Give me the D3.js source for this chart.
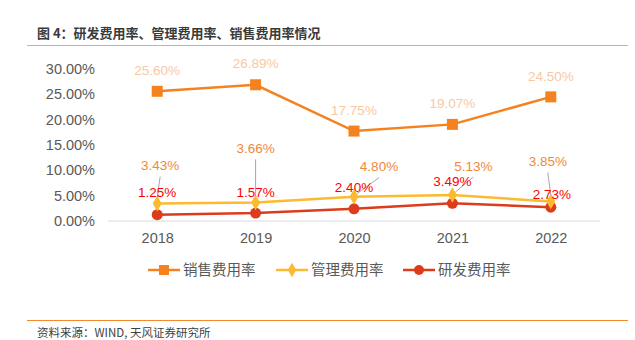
<!DOCTYPE html>
<html>
<head>
<meta charset="utf-8">
<script src="https://cdn.jsdelivr.net/npm/d3@7"></script>
<style>
  body { margin: 0; background: #fff; }
  text { font-family: "Liberation Sans", Arial, sans-serif; }
  .cjk { font-family: "Noto Sans CJK SC", sans-serif; }
</style>
</head>
<body>
<svg id="chart" width="635" height="340"></svg>
<script>
var years = ["2018", "2019", "2020", "2021", "2022"];
var sales = [25.60, 26.89, 17.75, 19.07, 24.50];
var admin = [3.43, 3.66, 4.80, 5.13, 3.85];
var rnd = [1.25, 1.57, 2.40, 3.49, 2.73];
var yTicks = [0, 5, 10, 15, 20, 25, 30];
var seriesNames = ["销售费用率", "管理费用率", "研发费用率"];

// label offsets (dx, dy) relative to each point
var salesOff = [[0,-21],[0,-21],[0,-21],[0,-21],[0,-21]];
var adminOff = [[3,-38],[0,-54],[25,-30],[21,-29],[-3,-40]];
var rndOff = [[0,-22],[0,-21],[0,-22],[0,-22],[1,-13]];

var svg = d3.select("#chart");

svg.append("text").attr("class", "cjk")
   .attr("x", 37).attr("y", 38)
   .attr("font-size", "13px").attr("font-weight", "bold").attr("fill", "#3a3a3a")
   .text("图 4：研发费用率、管理费用率、销售费用率情况");
svg.append("line").attr("x1", 27).attr("x2", 628).attr("y1", 45.5).attr("y2", 45.5)
   .attr("stroke", "#F4A46A").attr("stroke-width", 1);
svg.append("line").attr("x1", 27).attr("x2", 628).attr("y1", 320.5).attr("y2", 320.5)
   .attr("stroke", "#F58A2A").attr("stroke-width", 1.2);
svg.append("text").attr("class", "cjk")
   .attr("x", 37).attr("y", 337)
   .attr("font-size", "11.5px").attr("fill", "#404040")
   .text("资料来源：WIND, 天风证券研究所");

var x = d3.scalePoint().domain(years).range([108, 600]).padding(0.5);
var y = d3.scaleLinear().domain([0, 30]).range([221, 69]);

// y axis labels
svg.append("g").selectAll("text").data(yTicks).enter().append("text")
   .attr("x", 95).attr("y", function(d) { return y(d); }).attr("dy", "0.35em")
   .attr("text-anchor", "end").attr("font-size", "14.5px").attr("fill", "#595959")
   .text(function(d) { return d3.format(".2f")(d) + "%"; });

// x axis
var xAxis = svg.append("g").attr("transform", "translate(0," + y(0) + ")")
   .call(d3.axisBottom(x).tickSize(0).tickPadding(12));
xAxis.select(".domain").attr("stroke", "#d9d9d9").attr("d", "M108,0H600");
xAxis.selectAll("text").attr("font-size", "14.5px").attr("fill", "#595959")
   .attr("font-family", "Liberation Sans, Arial, sans-serif");

var line = d3.line().x(function(d, i) { return x(years[i]); }).y(function(d) { return y(d); });

var cSales = "#F5821F", cAdmin = "#FBBA2F", cRnd = "#DC3B1C";

svg.append("path").datum(rnd).attr("fill", "none").attr("stroke", cRnd).attr("stroke-width", 2.5).attr("d", line);
svg.append("path").datum(admin).attr("fill", "none").attr("stroke", cAdmin).attr("stroke-width", 2.5).attr("d", line);
svg.append("path").datum(sales).attr("fill", "none").attr("stroke", cSales).attr("stroke-width", 2.5).attr("d", line);

svg.append("g").selectAll("circle").data(rnd).enter().append("circle")
   .attr("cx", function(d, i) { return x(years[i]); }).attr("cy", function(d) { return y(d); })
   .attr("r", 5.5).attr("fill", cRnd);
svg.append("g").selectAll("path").data(admin).enter().append("path")
   .attr("transform", function(d, i) { return "translate(" + x(years[i]) + "," + y(d) + ")"; })
   .attr("d", d3.symbol(d3.symbolDiamond, 70)).attr("fill", cAdmin);
svg.append("g").selectAll("rect").data(sales).enter().append("rect")
   .attr("x", function(d, i) { return x(years[i]) - 5.5; }).attr("y", function(d) { return y(d) - 5.5; })
   .attr("width", 11).attr("height", 11).attr("fill", cSales);

// leader lines for admin labels
svg.append("g").selectAll("line").data(admin).enter().append("line")
   .attr("x1", function(d, i) { return x(years[i]) + adminOff[i][0]; })
   .attr("y1", function(d, i) { return y(d) + adminOff[i][1] + 11; })
   .attr("x2", function(d, i) { return x(years[i]) + (adminOff[i][0] > 10 ? 3 : 0); })
   .attr("y2", function(d, i) { return y(d) - (adminOff[i][0] > 10 ? 3 : 6); })
   .attr("stroke", "#a6a6a6").attr("stroke-width", 1);

function labels(data, off, color) {
  svg.append("g").selectAll("text").data(data).enter().append("text")
     .attr("x", function(d, i) { return x(years[i]) + off[i][0]; })
     .attr("y", function(d, i) { return y(d) + off[i][1]; })
     .attr("dy", "0.35em").attr("text-anchor", "middle")
     .attr("font-size", "13.5px").attr("fill", color)
     .text(function(d) { return d.toFixed(2) + "%"; });
}
labels(sales, salesOff, "#F8C8A4");
labels(admin, adminOff, "#F0883A");
labels(rnd, rndOff, "#FF0000");

// legend
var legendX = [148, 276, 403];
var legendColors = [cSales, cAdmin, cRnd];
var lg = svg.append("g").selectAll("g").data(seriesNames).enter().append("g")
   .attr("transform", function(d, i) { return "translate(" + legendX[i] + ",270)"; });
lg.append("line").attr("x1", 0).attr("x2", 32).attr("y1", 0).attr("y2", 0)
   .attr("stroke", function(d, i) { return legendColors[i]; }).attr("stroke-width", 2.5);
lg.each(function(d, i) {
  var g = d3.select(this);
  if (i === 0) g.append("rect").attr("x", 11).attr("y", -5).attr("width", 10).attr("height", 10).attr("fill", cSales);
  if (i === 1) g.append("path").attr("transform", "translate(16,0)").attr("d", d3.symbol(d3.symbolDiamond, 60)).attr("fill", cAdmin);
  if (i === 2) g.append("circle").attr("cx", 16).attr("cy", 0).attr("r", 5).attr("fill", cRnd);
});
lg.append("text").attr("class", "cjk").attr("x", 35).attr("y", 0).attr("dy", "0.35em")
   .attr("font-size", "14.5px").attr("fill", "#595959").text(function(d) { return d; });
</script>
</body>
</html>
